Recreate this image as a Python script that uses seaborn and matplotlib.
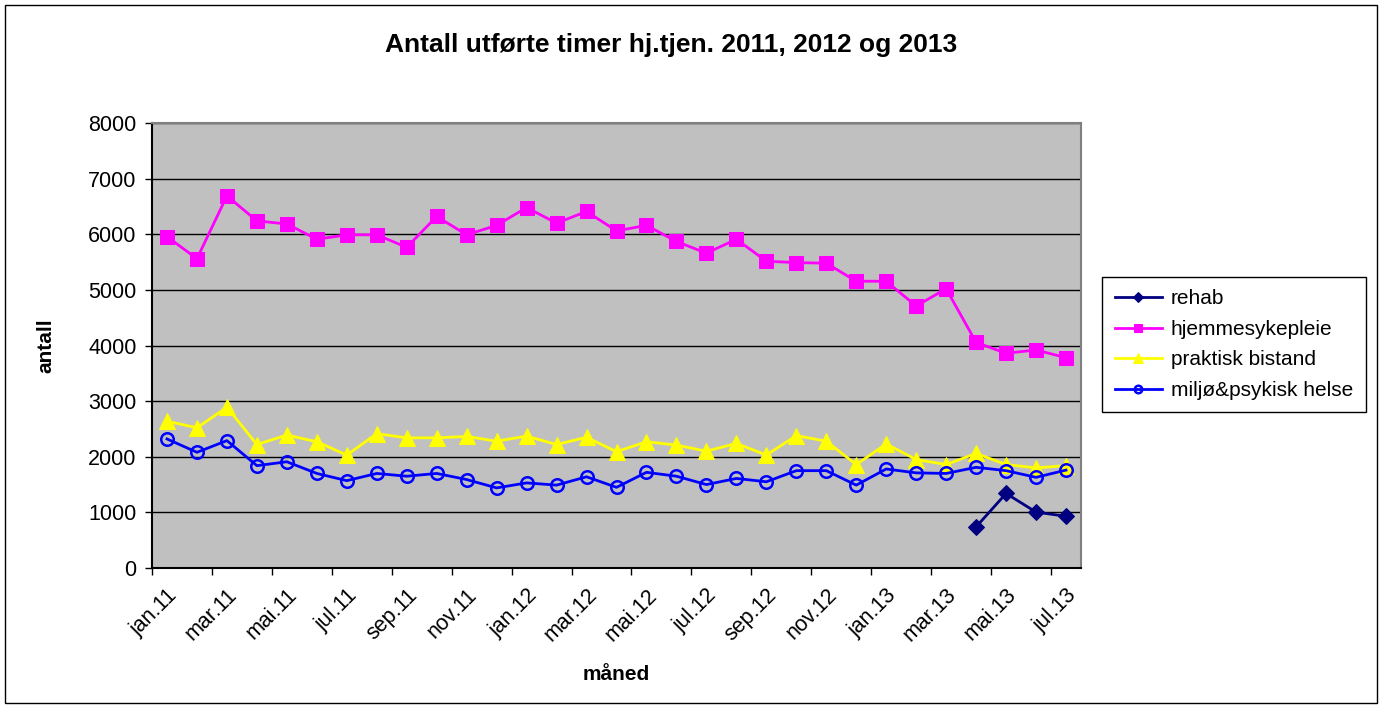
import matplotlib
matplotlib.use("Agg")
import matplotlib.pyplot as plt
import seaborn as sns
import pandas as pd
import numpy as np
from matplotlib.patches import Rectangle

months = [
    "jan.11", "feb.11", "mar.11", "apr.11", "mai.11", "jun.11", "jul.11", "aug.11",
    "sep.11", "okt.11", "nov.11", "des.11",
    "jan.12", "feb.12", "mar.12", "apr.12", "mai.12", "jun.12", "jul.12", "aug.12",
    "sep.12", "okt.12", "nov.12", "des.12",
    "jan.13", "feb.13", "mar.13", "apr.13", "mai.13", "jun.13", "jul.13",
]

rehab = [np.nan] * 27 + [740, 1340, 1005, 930]

hjemmesykepleie = [
    5957, 5560, 6690, 6240, 6185, 5910, 5990, 5990, 5765, 6320, 5990, 6160,
    6480, 6200, 6410, 6060, 6160, 5870, 5660, 5910, 5515, 5490, 5480, 5155,
    5155, 4710, 5020, 4055, 3860, 3920, 3780,
]

praktisk_bistand = [
    2640, 2520, 2890, 2220, 2390, 2270, 2030, 2415, 2340, 2340, 2365, 2280,
    2370, 2220, 2350, 2090, 2270, 2210, 2100, 2240, 2030, 2380, 2280, 1860,
    2230, 1950, 1860, 2060, 1860, 1800, 1840,
]

miljo_psykisk = [
    2320, 2080, 2290, 1840, 1910, 1700, 1570, 1700, 1650, 1700, 1590, 1440,
    1530, 1490, 1640, 1450, 1720, 1650, 1500, 1610, 1550, 1750, 1750, 1490,
    1780, 1710, 1700, 1810, 1750, 1630, 1760,
]

df = pd.DataFrame({
    "idx": np.arange(len(months)),
    "month": months,
    "rehab": rehab,
    "hjemmesykepleie": hjemmesykepleie,
    "praktisk bistand": praktisk_bistand,
    "miljø&psykisk helse": miljo_psykisk,
})

plt.rcParams["font.family"] = ["Liberation Sans", "DejaVu Sans"]

fig = plt.figure(figsize=(13.82, 7.08), dpi=100)
ax = fig.add_axes([152 / 1382, 1 - 568 / 708, (1081 - 152) / 1382, (568 - 123) / 708])
ax.set_facecolor("#C0C0C0")

series_style = {
    "rehab": dict(color="#000080", marker="D", markersize=8, markerfacecolor="#000080",
                  markeredgecolor="#000080"),
    "hjemmesykepleie": dict(color="#FF00FF", marker="s", markersize=10,
                            markerfacecolor="#FF00FF", markeredgecolor="#FF00FF"),
    "praktisk bistand": dict(color="#FFFF00", marker="^", markersize=11,
                             markerfacecolor="#FFFF00", markeredgecolor="#FFFF00"),
    "miljø&psykisk helse": dict(color="#0000FF", marker="o", markersize=9,
                                markerfacecolor="none", markeredgecolor="#0000FF",
                                markeredgewidth=1.8),
}

for name, st in series_style.items():
    sub = df[["idx", name]].dropna()
    sns.lineplot(data=sub, x="idx", y=name, ax=ax, linewidth=2, label=name, **st)

ax.set_xlim(-0.5, len(months) - 0.5)
ax.set_ylim(0, 8000)
ax.set_yticks(range(0, 8001, 1000))
ax.yaxis.grid(True, color="black", linewidth=1)
ax.set_axisbelow(True)

# tick marks on category boundaries, labels on category centres
ax.set_xticks(np.arange(-0.5, len(months) - 0.5, 2))
ax.set_xticklabels([])
ax.set_xticks(np.arange(0, len(months), 2), minor=True)
ax.set_xticklabels(months[::2], minor=True, rotation=45, ha="right", va="top",
                   rotation_mode="anchor", fontsize=15.5)
ax.tick_params(axis="x", which="minor", length=0, pad=12)
ax.tick_params(axis="x", which="major", length=5, width=1, color="black")
ax.tick_params(axis="y", length=5, width=1, labelsize=15.5, pad=6)

for side in ["left", "bottom"]:
    ax.spines[side].set_color("black")
    ax.spines[side].set_linewidth(1.5)
for side in ["top", "right"]:
    ax.spines[side].set_color("#808080")
    ax.spines[side].set_linewidth(1.5)

ax.set_xlabel("måned", fontsize=15, fontweight="bold", labelpad=14)
ax.set_ylabel("antall", fontsize=15, fontweight="bold", labelpad=24)
fig.text(671 / 1382, 1 - 45 / 708, "Antall utførte timer hj.tjen. 2011, 2012 og 2013",
         ha="center", va="center", fontsize=19, fontweight="bold")

leg = ax.legend(loc="upper left", bbox_to_anchor=(1102 / 1382, 1 - 277 / 708),
                bbox_transform=fig.transFigure, frameon=True, fancybox=False,
                edgecolor="black", framealpha=1, fontsize=15, borderaxespad=0,
                handlelength=2.3, handletextpad=0.4, labelspacing=0.55,
                markerscale=0.6, borderpad=0.6)
leg.get_frame().set_linewidth(1)

fig.patches.append(Rectangle((5 / 1382, 5 / 708), 1372 / 1382, 698 / 708,
                             transform=fig.transFigure, fill=False,
                             edgecolor="black", linewidth=1))

fig.savefig("out.png", dpi=100)
